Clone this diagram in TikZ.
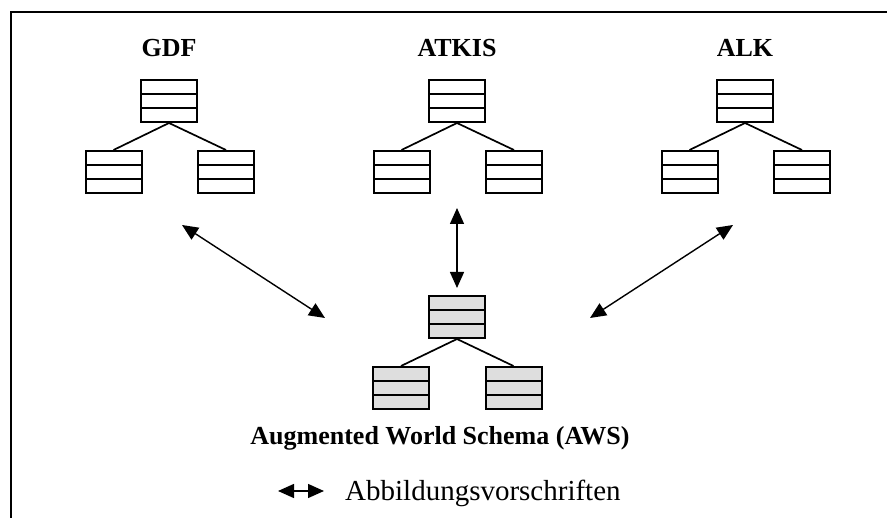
\documentclass[tikz,border=0pt]{standalone}
\usepackage{fontspec}
\setmainfont{Liberation Serif}
\usetikzlibrary{arrows.meta}
\begin{document}
\begin{tikzpicture}[x=1pt,y=-1pt,
  umlbox/.style={draw, line width=2pt, minimum width=56pt, minimum height=42pt, inner sep=0pt, fill=white,
    path picture={\draw[line width=2pt] ([yshift=-14pt]path picture bounding box.north west) -- ([yshift=-14pt]path picture bounding box.north east)
      ([yshift=14pt]path picture bounding box.south west) -- ([yshift=14pt]path picture bounding box.south east);}},
  awsbox/.style={umlbox, fill=black!13},
  treeline/.style={line width=1.7pt},
  maparrow/.style={line width=1.4pt, {Triangle[length=16pt,width=14pt]}-{Triangle[length=16pt,width=14pt]}},
  title/.style={font=\fontsize{26}{30}\selectfont\bfseries, inner sep=0pt},
  legend/.style={font=\fontsize{29}{34}\selectfont, inner sep=0pt, anchor=west}
]
\useasboundingbox (0,0) rectangle (887,518);
\draw[line width=2pt] (11,518) -- (11,12) -- (887,12);

% GDF
\node[title] (tgdf) at (169,48) {GDF};
\node[umlbox] (g0) at (169,101) {};
\node[umlbox] (g1) at (113.5,172) {};
\node[umlbox] (g2) at (226,172) {};
\draw[treeline] (g0.south) -- (g1.north) (g0.south) -- (g2.north);

% ATKIS
\node[title] (tatk) at (457,48) {ATKIS};
\node[umlbox] (a0) at (457,101) {};
\node[umlbox] (a1) at (401.5,172) {};
\node[umlbox] (a2) at (514,172) {};
\draw[treeline] (a0.south) -- (a1.north) (a0.south) -- (a2.north);

% ALK
\node[title] (talk) at (745,48) {ALK};
\node[umlbox] (k0) at (745,101) {};
\node[umlbox] (k1) at (689.5,172) {};
\node[umlbox] (k2) at (802,172) {};
\draw[treeline] (k0.south) -- (k1.north) (k0.south) -- (k2.north);

% AWS
\node[awsbox] (w0) at (457,317) {};
\node[awsbox] (w1) at (401,388) {};
\node[awsbox] (w2) at (513.5,388) {};
\draw[treeline] (w0.south) -- (w1.north) (w0.south) -- (w2.north);
\node[title] (taws) at (440,438) {Augmented World Schema (AWS)};

% mapping arrows
\coordinate (gA) at (182,225);
\coordinate (gB) at (325,318);
\coordinate (aA) at (457,208);
\coordinate (aB) at (457,288);
\coordinate (kA) at (733,225);
\coordinate (kB) at (590,318);
\draw[maparrow] (gA) -- (gB);
\draw[maparrow] (aA) -- (aB);
\draw[maparrow] (kA) -- (kB);

% legend
\coordinate (lA) at (278,491);
\coordinate (lB) at (324,491);
\draw[maparrow] (lA) -- (lB);
\node[legend] (ltext) at (345,493) {Abbildungsvorschriften};
\end{tikzpicture}
\end{document}
